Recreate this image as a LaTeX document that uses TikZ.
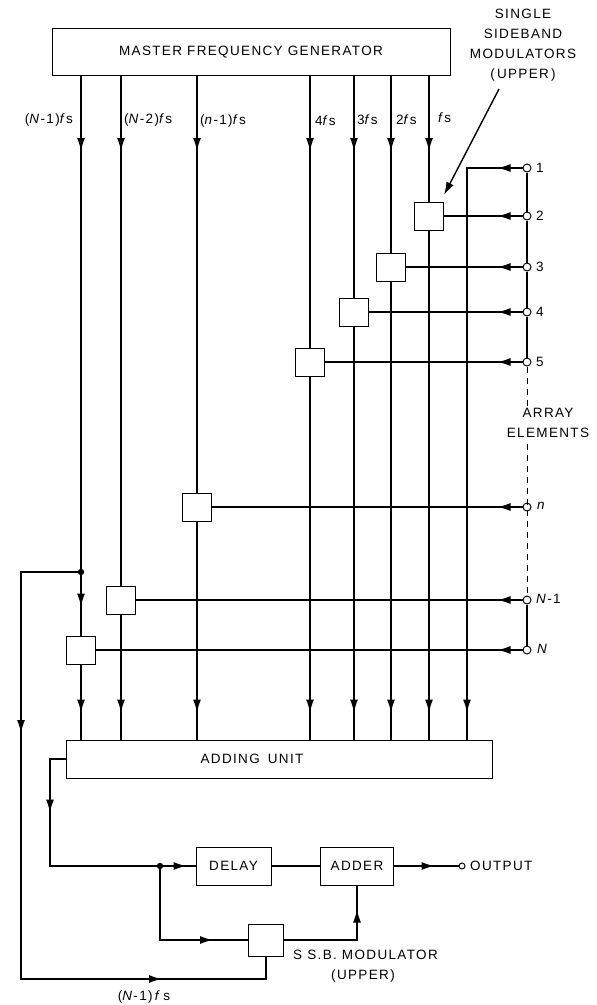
\documentclass[tikz,border=0pt]{standalone}
\usepackage{fontspec}
\setmainfont{Liberation Sans}[LetterSpace=10]
\usetikzlibrary{arrows.meta,decorations.markings}
\begin{document}
\begin{tikzpicture}[x=1pt,y=-1pt,
  every node/.style={font=\fontsize{13.5}{20}\selectfont},
  wire/.style={line width=1.4pt},
  am/.style={postaction={decorate,decoration={markings,mark=at position #1 with {\arrow{Latex[length=13pt,width=8pt]}}}}},
  blk/.style={draw,line width=1pt,inner sep=0pt},
  modbox/.style={blk,minimum width=29pt,minimum height=28pt},
  term/.style={draw,line width=1pt,circle,fill=white,inner sep=0pt,minimum size=8pt},
  txt/.style={inner sep=0pt},
]
\useasboundingbox (0,0) rectangle (597,1005);

% main blocks
\node[blk,minimum width=398pt,minimum height=47pt] (gen) at (251,52) {MASTER FREQUENCY GENERATOR};
\node[blk,minimum width=426pt,minimum height=38pt] (add) at (279,759) {\hspace*{-54pt}ADDING\hspace{8pt}UNIT};

% modulators
\node[modbox] (m2) at (429,216) {};
\node[modbox] (m3) at (391,267) {};
\node[modbox] (m4) at (354,312) {};
\node[modbox] (m5) at (310,362) {};
\node[modbox] (mn) at (197,507) {};
\node[modbox] (mN1) at (121,600) {};
\node[modbox] (mN) at (81,650) {};

% array element terminals
\node[term] (c1) at (527,168) {};
\node[term] (c2) at (527,216) {};
\node[term] (c3) at (527,267) {};
\node[term] (c4) at (527,312) {};
\node[term] (c5) at (527,362) {};
\node[term] (cn) at (527,507) {};
\node[term] (cN1) at (527,600) {};
\node[term] (cN) at (527,650) {};

\node[txt,anchor=west] (l1) at (536,168) {1};
\node[txt,anchor=west] (l2) at (536,216) {2};
\node[txt,anchor=west] (l3) at (536,267) {3};
\node[txt,anchor=west] (l4) at (536,312) {4};
\node[txt,anchor=west] (l5) at (536,362) {5};
\node[txt,anchor=west] (ln) at (537,506) {\textit{n}};
\node[txt,anchor=west] (lN1) at (536,599) {\textit{N}-1};
\node[txt,anchor=west] (lN) at (537,649) {\textit{N}};

% frequency labels
\node[txt,anchor=east] (f1) at (73,120) {(\textit{N}-1)\textit{f}s};
\node[txt,anchor=west] (f2) at (124,120) {(\textit{N}-2)\textit{f}s};
\node[txt,anchor=west] (f3) at (200,121) {(\textit{n}-1)\textit{f}s};
\node[txt,anchor=west] (f4) at (315,121) {4\textit{f}s};
\node[txt,anchor=west] (f5) at (357,120) {3\textit{f}s};
\node[txt,anchor=west] (f6) at (396,120) {2\textit{f}s};
\node[txt,anchor=west] (f7) at (438,118) {\textit{f}s};

% top-right annotation
\node[txt,align=center] (ssbl) at (523,45) {SINGLE\\SIDEBAND\\MODULATORS\\(\,UPPER\,)};
\coordinate (ua) at (499,89);
\coordinate (ub) at (444,195);
\draw[wire,-{Latex[length=13pt,width=8pt]}] (ua) -- (ub);

% bottom blocks
\node[blk,minimum width=75pt,minimum height=38pt] (delay) at (233.5,866) {DELAY};
\node[blk,minimum width=73pt,minimum height=38pt] (adder) at (357,866) {ADDER};
\node[blk,minimum width=35pt,minimum height=32pt] (ssb) at (266,940) {};
\node[term,minimum size=6pt] (out) at (462,866) {};
\node[txt,anchor=west] (outl) at (470,866) {OUTPUT};
\node[txt,anchor=west] (ssbt) at (293,955) {S S.B. MODULATOR};
\node[txt] (ssbu) at (363,976) {(UPPER)};
\node[txt] (fb) at (144,997) {(\textit{N}-1)\,\textit{f}\,s};

% frequency lines
\coordinate (j1) at (81,572);
\draw[wire,am=75pt] (gen.south -| j1) -- (j1);
\draw[wire,am=-29pt] (j1) -- (mN);
\draw[wire,am=-27pt] (mN) -- (mN |- add.north);
\draw[wire,am=75pt] (gen.south -| mN1) -- (mN1);
\draw[wire,am=-27pt] (mN1) -- (mN1 |- add.north);
\draw[wire,am=75pt] (gen.south -| mn) -- (mn);
\draw[wire,am=-27pt] (mn) -- (mn |- add.north);
\draw[wire,am=75pt] (gen.south -| m5) -- (m5);
\draw[wire,am=-27pt] (m5) -- (m5 |- add.north);
\draw[wire,am=75pt] (gen.south -| m4) -- (m4);
\draw[wire,am=-27pt] (m4) -- (m4 |- add.north);
\draw[wire,am=75pt] (gen.south -| m3) -- (m3);
\draw[wire,am=-27pt] (m3) -- (m3 |- add.north);
\draw[wire,am=75pt] (gen.south -| m2) -- (m2);
\draw[wire,am=-27pt] (m2) -- (m2 |- add.north);

% element lines
\coordinate (k1) at (467,168);
\draw[wire,am=25pt,am=-27pt] (c1) -- (k1) -- (k1 |- add.north);
\draw[wire,am=25pt] (c2) -- (m2);
\draw[wire,am=25pt] (c3) -- (m3);
\draw[wire,am=25pt] (c4) -- (m4);
\draw[wire,am=25pt] (c5) -- (m5);
\draw[wire,am=25pt] (cn) -- (mn);
\draw[wire,am=25pt] (cN1) -- (mN1);
\draw[wire,am=25pt] (cN) -- (mN);

% right rail
\draw[wire] (c1) -- (c2) (c2) -- (c3) (c3) -- (c4) (c4) -- (c5) (cN1) -- (cN);
\draw[line width=1pt,dash pattern=on 6pt off 5pt] (c5) -- (cN1);
\node[txt,fill=white,align=center,inner sep=2pt] (arr) at (548,423) {ARRAY\\ELEMENTS};

% bottom loop
\coordinate (lc) at (21,572);
\coordinate (bc) at (21,979);
\draw[wire,am=221pt,am=608pt] (j1) -- (lc) -- (bc) -| (ssb);
\fill (j1) circle (3.2pt);

\coordinate (a1) at (50,759);
\draw[wire,am=69pt,am=-9pt] (add.west) -- (a1) -- (a1 |- delay) -- (delay);
\coordinate (j2) at (160,866);
\draw[wire,am=-35pt] (j2) -- (j2 |- ssb) -- (ssb);
\fill (j2) circle (3.2pt);
\draw[wire] (delay) -- (adder);
\draw[wire,am=-24pt] (ssb) -| (adder);
\draw[wire,am=-24pt] (adder) -- (out);
\end{tikzpicture}
\end{document}
